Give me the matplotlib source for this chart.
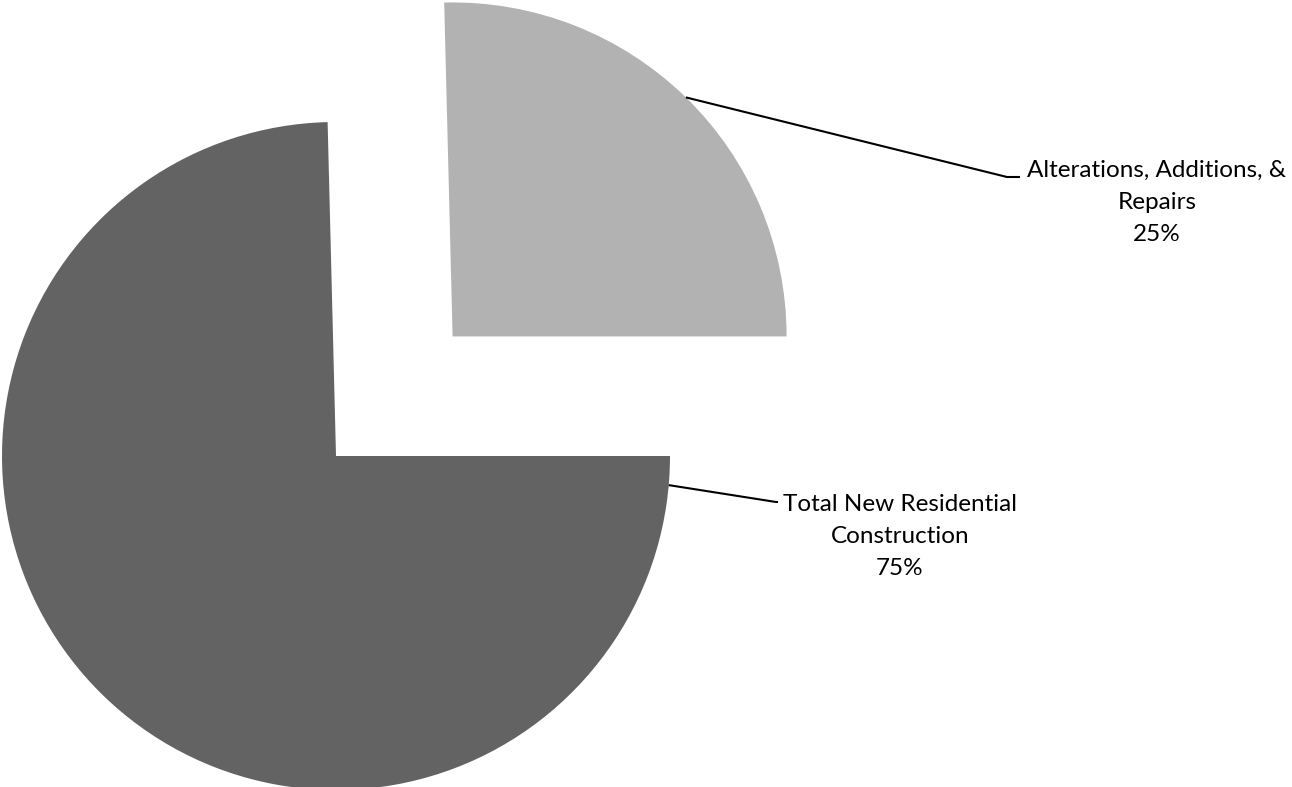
import matplotlib.pyplot as plt
import numpy as np

# Share of construction spending
categories = ['Alterations, Additions, &\nRepairs', 'Total New Residential\nConstruction']
shares = [25.4, 74.6]
colors = ['#b2b2b2', '#636363']
explode_frac = [0.5, 0.0]

plt.rcParams['font.family'] = ['Lato', 'DejaVu Sans']

W, H = 1292, 787
fig = plt.figure(figsize=(W / 100, H / 100), dpi=100)
ax = fig.add_axes([0, 0, 1, 1])

cx, cy, r = 336, H - 456, 334
# pie() offsets exploded wedges in data units, so scale by the radius
wedges, _ = ax.pie(shares, colors=colors, startangle=0, counterclock=True,
                   explode=[e * r for e in explode_frac],
                   center=(cx, cy), radius=r, wedgeprops=dict(linewidth=0))

# leader start angle on each arc, then bend point and label anchor (pixels)
leader_angle = [45.7, -5.0]
bends = [[(1007, H - 177), (1020, H - 177)], [(776, H - 502), (778, H - 502)]]
label_pos = [(1157, H - 160), (900, H - 494)]

for w, ang, pts, (lx, ly), name, val in zip(wedges, leader_angle, bends,
                                            label_pos, categories, shares):
    wx, wy = w.center
    sx = wx + r * np.cos(np.radians(ang))
    sy = wy + r * np.sin(np.radians(ang))
    xs = [sx] + [p[0] for p in pts]
    ys = [sy] + [p[1] for p in pts]
    ax.plot(xs, ys, color='black', linewidth=1.5, solid_capstyle='butt')
    ax.text(lx, ly, f'{name}\n{val:.0f}%', ha='center', va='top',
            fontsize=17.5, linespacing=1.65, color='black')

ax.set_xlim(0, W)
ax.set_ylim(0, H)
ax.set_aspect('equal')
ax.axis('off')

plt.savefig('out.png', dpi=100)
